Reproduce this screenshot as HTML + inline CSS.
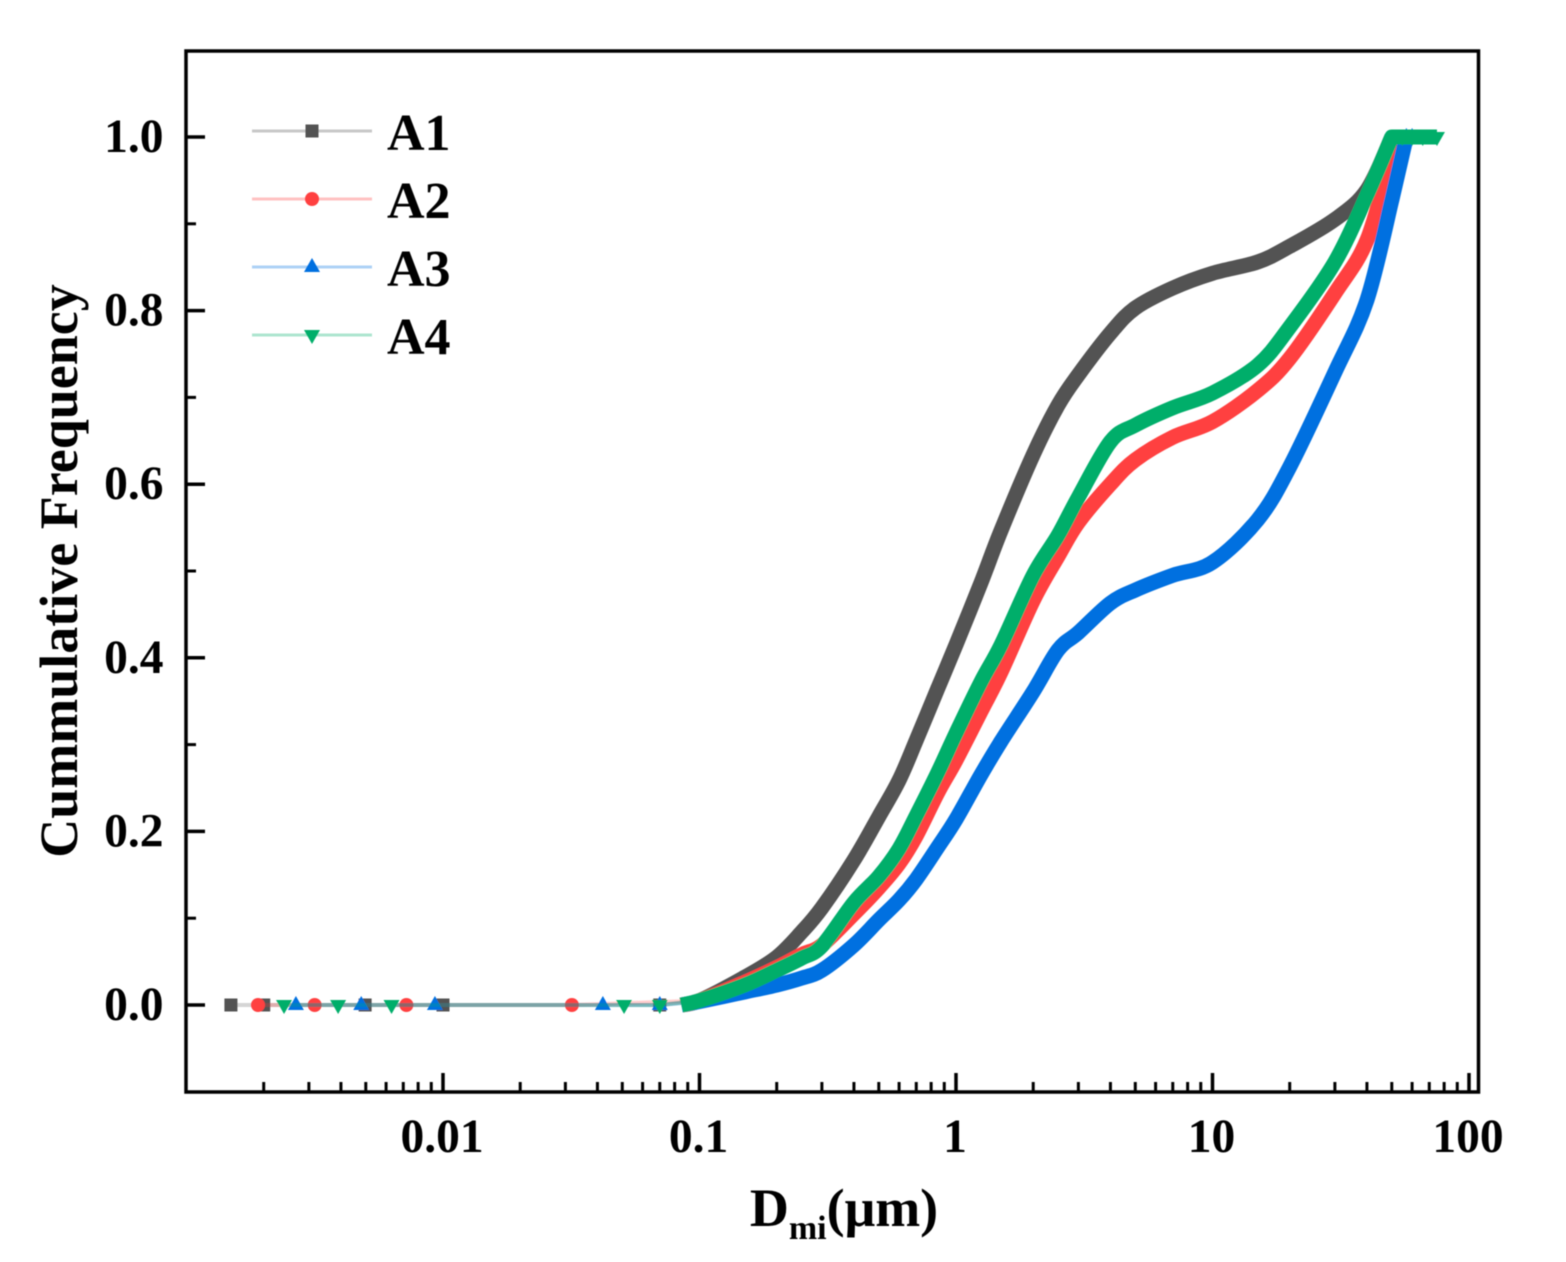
<!DOCTYPE html>
<html>
<head>
<meta charset="utf-8">
<title>Cumulative frequency chart</title>
<style>
html,body{margin:0;padding:0;background:#fff;width:1566px;height:1262px;overflow:hidden}
svg{display:block}
text{font-family:"Liberation Serif",serif;font-weight:bold;fill:#000}
</style>
</head>
<body>
<svg id="chart" width="1566" height="1262" viewBox="0 0 1566 1262" xmlns="http://www.w3.org/2000/svg">
<defs><filter id="soft" x="-5%" y="-5%" width="110%" height="110%"><feGaussianBlur stdDeviation="0.6"/></filter></defs>
<g id="root" filter="url(#soft)"></g>
</svg>
<script>
const xGrid = [0.1,0.15,0.2,0.25,0.3,0.4,0.5,0.6,0.7,0.85,1,1.25,1.5,2,2.5,3,4,5,7,10,15,20,30,40,50];
const a1Values = [0.005,0.032,0.055,0.084,0.112,0.167,0.217,0.259,0.305,0.365,0.415,0.486,0.547,0.634,0.691,0.726,0.774,0.803,0.826,0.843,0.856,0.874,0.905,0.939,1.0];
const a2Values = [0.005,0.026,0.043,0.058,0.069,0.105,0.135,0.163,0.195,0.245,0.282,0.338,0.384,0.466,0.517,0.556,0.60,0.628,0.654,0.672,0.708,0.745,0.82,0.881,0.979];
const a3Values = [0.004,0.015,0.023,0.031,0.04,0.069,0.098,0.121,0.145,0.182,0.214,0.265,0.304,0.361,0.409,0.429,0.463,0.478,0.495,0.51,0.559,0.62,0.729,0.812,0.927];
const a4Values = [0.005,0.023,0.04,0.054,0.068,0.118,0.148,0.18,0.218,0.268,0.313,0.372,0.415,0.495,0.541,0.585,0.649,0.668,0.688,0.705,0.737,0.781,0.856,0.933,1.0];
const a1LowX = [0.00149,0.002,0.00497,0.01,0.07];
const a2LowX = [0.0019,0.00316,0.0072,0.0318];
const a3LowX = [0.00267,0.0048,0.0093,0.042,0.07];
const a4LowX = [0.0024,0.0039,0.0063,0.0508,0.07];
const a2EndX = [55];
const a2EndY = [1.0];
const a3EndX = [57,60];
const a3EndY = [1.0,1.0];
const a4EndX = [55,60,66,75];
const a4EndY = [1.0,1.0,1.0,1.0];
const seriesNames = ['A1','A2','A3','A4'];
const seriesColors = ['#525252','#ff4040','#0070e0','#00ae6b'];
const yTickLabels = ['0.0','0.2','0.4','0.6','0.8','1.0'];
const yTickValues = [0,0.2,0.4,0.6,0.8,1.0];
const yMinorValues = [0.1,0.3,0.5,0.7,0.9];
const xTickValues = [0.01,0.1,1,10,100];
const xTickLabels = ['0.01','0.1','1','10','100'];
const decadeStarts = [0.001,0.01,0.1,1,10];
const minorMultipliers = [2,3,4,5,6,7,8,9];

const NS = 'http://www.w3.org/2000/svg';
const root = document.getElementById('root');
function sx(v){ return 956 + 256.5 * Math.log10(v); }
function sy(v){ return 1005 - 868 * v; }
function make(tag, attrs, parent){
  const el = document.createElementNS(NS, tag);
  for (const k in attrs) el.setAttribute(k, attrs[k]);
  (parent || root).appendChild(el);
  return el;
}
function marker(kind, cx, cy, color, r, parent){
  if (kind === 0) return make('rect',{x:cx-6.5,y:cy-6.5,width:13,height:13,fill:color},parent);
  if (kind === 1) return make('circle',{cx:cx,cy:cy,r:r,fill:color},parent);
  if (kind === 2) return make('polygon',{points:(cx-8)+','+(cy+5)+' '+cx+','+(cy-9)+' '+(cx+8)+','+(cy+5),fill:color},parent);
  return make('polygon',{points:(cx-8)+','+(cy-5)+' '+cx+','+(cy+9)+' '+(cx+8)+','+(cy-5),fill:color},parent);
}
function smoothPath(points, tail){
  const p = points.map(function(q){ return [sx(q[0]),sy(q[1])]; });
  let d = 'M' + p[0][0] + ' ' + p[0][1];
  for (let i = 0; i < p.length - 1; i++){
    const a = p[Math.max(i-1,0)], b = p[i], c = p[i+1], e = p[Math.min(i+2,p.length-1)];
    d += ' C' + (b[0]+(c[0]-a[0])/6) + ' ' + (b[1]+(c[1]-a[1])/6) + ' ' +
         (c[0]-(e[0]-b[0])/6) + ' ' + (c[1]-(e[1]-b[1])/6) + ' ' + c[0] + ' ' + c[1];
  }
  tail.forEach(function(q){ d += ' L' + sx(q[0]) + ' ' + sy(q[1]); });
  return d;
}

/* frame */
const frame = make('rect',{x:186,y:51,width:1292.5,height:1041,fill:'none',stroke:'#000','stroke-width':3.5});



/* y ticks */
yTickValues.forEach(function(v,i){
  const t = make('line',{x1:186,x2:205,y1:sy(v),y2:sy(v),stroke:'#000','stroke-width':3.5});
  
  
  const l = make('text',{x:163.5,y:sy(v)+15,'text-anchor':'end','font-size':47.5});
  
  
  l.textContent = yTickLabels[i];
});
yMinorValues.forEach(function(v){
  const t = make('line',{x1:186,x2:196,y1:sy(v),y2:sy(v),stroke:'#000','stroke-width':3});
  
  
});

/* x ticks */
xTickValues.forEach(function(v,i){
  const t = make('line',{x1:sx(v),x2:sx(v),y1:1092,y2:1073,stroke:'#000','stroke-width':3.5});
  
  
  const l = make('text',{x:sx(v)-1,y:1152,'text-anchor':'middle','font-size':47.5});
  
  
  l.textContent = xTickLabels[i];
});
decadeStarts.forEach(function(d){
  minorMultipliers.forEach(function(m){
    const t = make('line',{x1:sx(d*m),x2:sx(d*m),y1:1092,y2:1082,stroke:'#000','stroke-width':3});
    
    
  });
});

/* axis titles */
const yTitle = make('text',{transform:'translate(77,571) rotate(-90)','text-anchor':'middle','font-size':54});


yTitle.textContent = 'Cummulative Frequency';

const xTitle = make('text',{x:844,y:1226,'text-anchor':'middle','font-size':54});


const ts1 = make('tspan',{},xTitle); ts1.textContent = 'D';
const ts2 = make('tspan',{dy:13,'font-size':34},xTitle); ts2.textContent = 'mi';
const ts3 = make('tspan',{dy:-13},xTitle); ts3.textContent = '(\u03bcm)';

/* series */
const allValues = [a1Values,a2Values,a3Values,a4Values];
const allLowX = [a1LowX,a2LowX,a3LowX,a4LowX];
const allEndX = [[],a2EndX,a3EndX,a4EndX];
const allEndY = [[],a2EndY,a3EndY,a4EndY];
allValues.forEach(function(vals,s){
  const color = seriesColors[s];
  const g = make('g',{});
  
  
  const lowX = allLowX[s];
  const low = lowX.map(function(v){ return [v,0]; });
  const main = xGrid.map(function(v,i){ return [v,vals[i]]; });
  const end = allEndX[s].map(function(v,i){ return [v,allEndY[s][i]]; });
  const thinPts = low.concat(main).concat(end).map(function(p){ return sx(p[0])+','+sy(p[1]); }).join(' ');
  const thin = make('polyline',{points:thinPts,fill:'none',stroke:color,'stroke-width':4,'stroke-opacity':0.25},g);
  
  
  const thick = make('path',{d:smoothPath([[0.085,0]].concat(main),end),fill:'none',stroke:color,'stroke-width':15,'stroke-linejoin':'round','stroke-linecap':'butt'},g);
  
  
  low.concat(end).forEach(function(p){
    const m = marker(s,sx(p[0]),sy(p[1]),color,7,g);
    
    
  });
});

/* legend */
const legendG = make('g',{});


seriesNames.forEach(function(n,i){
  const y = 131 + 68 * i;
  const entry = make('g',{},legendG);
  
  
  const ln = make('line',{x1:252,x2:372,y1:y,y2:y,stroke:seriesColors[i],'stroke-width':3,'stroke-opacity':0.32},entry);
  
  
  const mk = marker(i,312,y,seriesColors[i],7,entry);
  
  
  const tx = make('text',{x:387,y:y+19,'font-size':52},entry);
  
  
  tx.textContent = n;
});
</script>
</body>
</html>
